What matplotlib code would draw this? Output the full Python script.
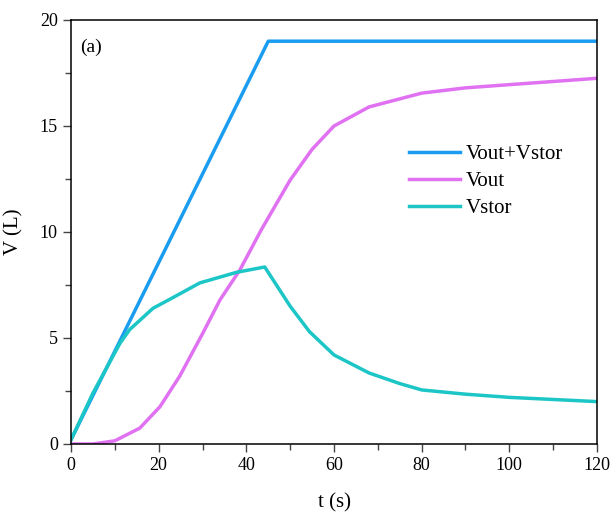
import matplotlib.pyplot as plt
from matplotlib.ticker import MultipleLocator

# Volume curves, V (L) against t (s)
t_total = [0, 45, 120]
v_total = [0.2, 19.0, 19.0]

t_out = [0, 5, 10, 15.7, 20.3, 24.8, 30, 34, 38.5, 43.4, 50, 55, 60, 68, 80, 90, 100, 110, 120]
v_out = [0.0, 0.0, 0.15, 0.75, 1.76, 3.2, 5.2, 6.8, 8.2, 10.1, 12.45, 13.9, 15.0, 15.9, 16.55, 16.8, 16.95, 17.1, 17.25]

t_stor = [0, 5, 11.2, 13.4, 18.7, 23.2, 29.4, 37.8, 44.2, 50, 54.4, 60, 68, 75, 80, 90, 100, 110, 120]
v_stor = [0.2, 2.4, 4.76, 5.4, 6.4, 6.9, 7.6, 8.1, 8.35, 6.5, 5.3, 4.2, 3.35, 2.85, 2.55, 2.35, 2.2, 2.1, 2.0]

plt.rcParams["font.family"] = ["Liberation Serif", "DejaVu Serif"]

fig = plt.figure(figsize=(6.13, 5.14), dpi=100)
ax = fig.add_axes([71 / 613, 70 / 514, 526 / 613, 424 / 514])

ax.plot(t_total, v_total, color="#1a9cf0", lw=2.5, label="Vout+Vstor")
ax.plot(t_out, v_out, color="#e072f2", lw=2.5, label="Vout")
ax.plot(t_stor, v_stor, color="#1dc6c6", lw=2.5, label="Vstor")

ax.set_xlim(0, 120)
ax.set_ylim(0, 20)
ax.xaxis.set_major_locator(MultipleLocator(20))
ax.xaxis.set_minor_locator(MultipleLocator(10))
ax.yaxis.set_major_locator(MultipleLocator(5))
ax.yaxis.set_minor_locator(MultipleLocator(2.5))
ax.tick_params(which="both", direction="out", labelsize=13, color="#444444", width=1)
ax.tick_params(which="major", length=6)
ax.tick_params(which="minor", length=4)
for s in ax.spines.values():
    s.set_linewidth(1.1)

ax.set_xlabel("t (s)", fontsize=15, labelpad=14)
ax.set_ylabel("V (L)", fontsize=15, labelpad=12)
ax.text(0.018, 0.955, "(a)", transform=ax.transAxes, fontsize=14, va="top", ha="left")

ax.legend(loc="upper left", bbox_to_anchor=(0.606, 0.75), frameon=False,
          fontsize=15, handlelength=2.45, handletextpad=0.3, labelspacing=0.35)

fig.savefig("out.png", dpi=100)
